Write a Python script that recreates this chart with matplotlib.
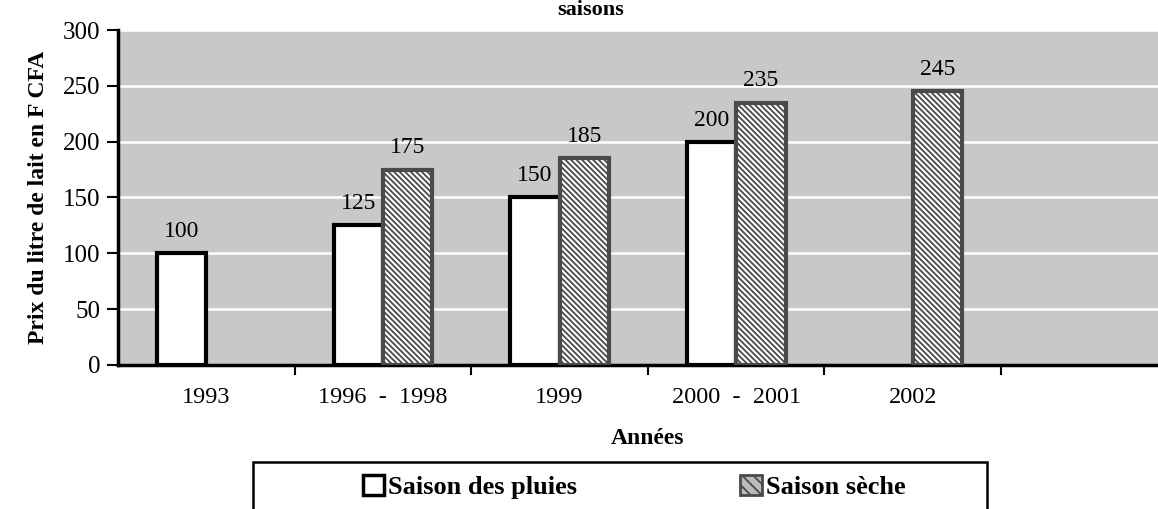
import numpy as np
import matplotlib.pyplot as plt
from matplotlib.patches import Patch, Rectangle

# données
annees = ['1993', '1996  -  1998', '1999', '2000  -  2001', '2002', '']
pluies = [100, 125, 150, 200, None, None]
seche = [None, 175, 185, 235, 245, None]

plt.rcParams['font.family'] = ['Liberation Serif', 'DejaVu Serif']
plt.rcParams['hatch.linewidth'] = 1.3
plt.rcParams['hatch.color'] = '#333333'

fig = plt.figure(figsize=(11.58, 5.09), dpi=100)
ax = fig.add_axes([0.102, 0.283, 0.915, 0.658])
ax.set_facecolor('#c8c8c8')

x = np.arange(len(annees))
w = 0.28
edge_sec = '#4a4a4a'

for i in range(len(annees)):
    if pluies[i] is not None:
        ax.bar(x[i] - w / 2, pluies[i], w, color='white', edgecolor='black', linewidth=3, zorder=3)
        ax.text(x[i] - w / 2, pluies[i] + 10, str(pluies[i]), ha='center', va='bottom', fontsize=17, zorder=4)
    if seche[i] is not None:
        ax.bar(x[i] + w / 2, seche[i], w, color='white', edgecolor=edge_sec, hatch='\\\\\\\\\\\\',
               linewidth=3, zorder=3)
        ax.text(x[i] + w / 2, seche[i] + 10, str(seche[i]), ha='center', va='bottom', fontsize=17, zorder=4)

ax.set_xlim(-0.5, len(annees) - 0.5)
ax.set_ylim(0, 300)
ax.set_yticks(np.arange(0, 301, 50))
ax.grid(axis='y', color='white', linewidth=1.8, zorder=1)
ax.set_axisbelow(True)

ax.set_xticks(x)
ax.set_xticklabels(annees, fontsize=17.5)
ax.set_xticks(x[:-1] + 0.5, minor=True)
ax.tick_params(axis='x', which='major', length=0, pad=16)
ax.tick_params(axis='x', which='minor', length=7, width=1.5, direction='out')
ax.tick_params(axis='y', labelsize=18, length=8, width=1.5, pad=5)

for s in ['top', 'right']:
    ax.spines[s].set_visible(False)
ax.spines['left'].set_linewidth(2.5)
ax.spines['bottom'].set_linewidth(2.5)

ax.set_ylabel('Prix du litre de lait en F CFA', fontsize=17, fontweight='bold', labelpad=10)
ax.set_xlabel('Années', fontsize=17, fontweight='bold', labelpad=14)

fig.text(0.51, 1.0, 'saisons', ha='center', va='top', fontsize=16, fontweight='bold')

# cadre de la légende
fig.patches.append(Rectangle((253 / 1158, -0.05), 734 / 1158, 1 - 462 / 509 + 0.05,
                             transform=fig.transFigure, facecolor='white',
                             edgecolor='black', linewidth=1.8, zorder=0))

handles = [Patch(facecolor='white', edgecolor='black', linewidth=2.5),
           Patch(facecolor='#bbbbbb', edgecolor=edge_sec, hatch='\\\\\\', linewidth=2)]
leg = fig.legend(handles, ['Saison des pluies', 'Saison sèche'], ncol=2,
                 loc='center', bbox_to_anchor=(634 / 1158, 1 - 487 / 509),
                 frameon=False, prop={'size': 19, 'weight': 'bold'},
                 handlelength=0.8, handleheight=0.8, handletextpad=0.15,
                 borderpad=0, columnspacing=6.2)

fig.savefig('out.png', dpi=100)
